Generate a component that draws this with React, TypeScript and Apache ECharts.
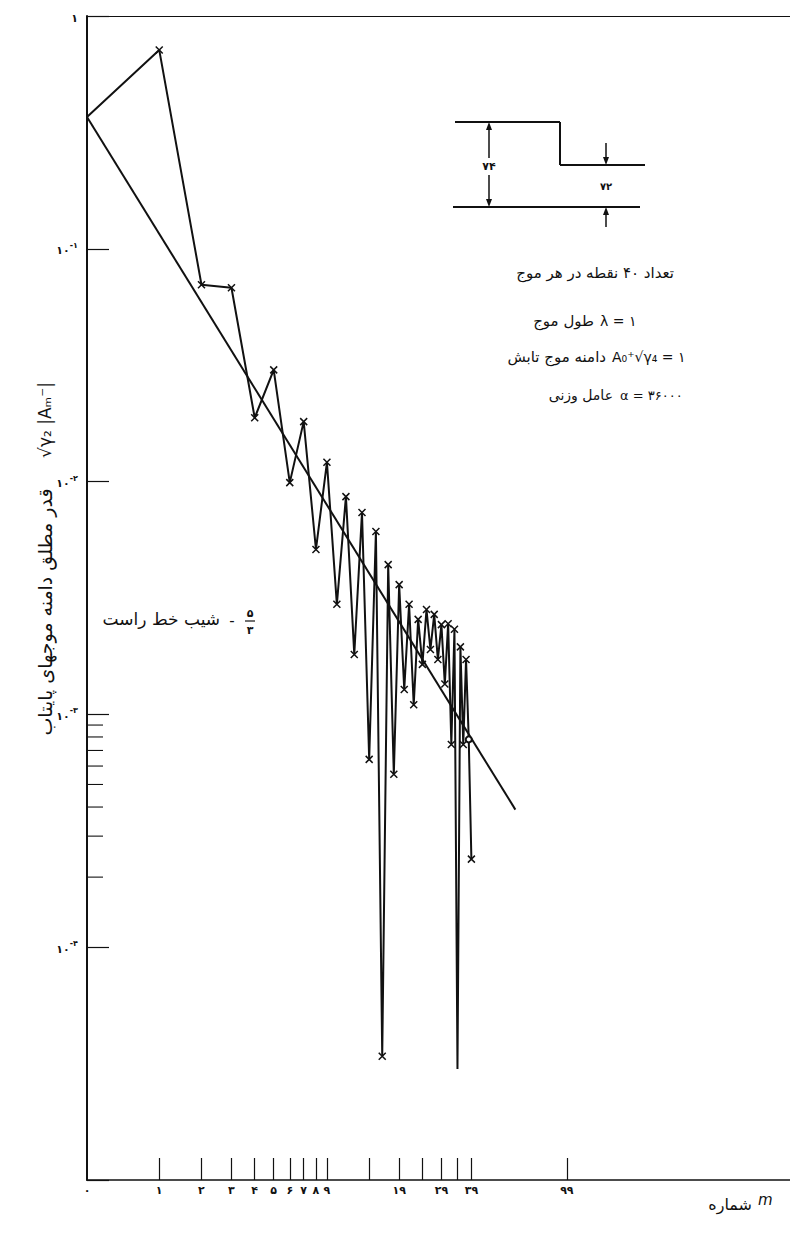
import React, { useEffect, useRef } from 'react';
import * as echarts from 'echarts';

// wave number m and measured |A_m| sqrt(y2)
const modes = [0,1,2,3,4,5,6,7,8,9,10,11,12,13,14,15,16,17,18,19,20,21,22,23,24,25,26,27,28,29,30,31,32,33,34,35,36,37,38,39];
const amplitudes = [0.368,0.715,0.0701,0.068,0.0188,0.0302,0.0099,0.0181,0.00511,0.0121,0.00297,0.00862,0.00181,0.00736,0.000641,0.0061,0.000034,0.0044,0.000553,0.00361,0.00128,0.00297,0.0011,0.00256,0.00164,0.00282,0.0019,0.00269,0.00172,0.00243,0.00135,0.00245,0.000743,0.00232,0.00003,0.00195,0.000743,0.00172,0.000781,0.000239];
// straight line of slope -5/3
const fitModes = [0, 60];
const fitAmps = [0.368, 0.00039];
const xTickModes = [1,2,3,4,5,6,7,8,9,14,19,24,29,34,39,99];
const xLabelModes = [0,1,2,3,4,5,6,7,8,9,19,29,39,99];
const yMinorTicks = [9e-4,8e-4,7e-4,6e-4,5e-4,4e-4,3e-4,2e-4];

const FA = '۰۱۲۳۴۵۶۷۸۹';
const toFa = (n: number | string) => String(n).replace(/\d/g, (d) => FA[+d]);
const xPos = (m: number) => Math.log10(m + 1);
const CROSS = 'path://M0,0L10,10M10,0L0,10';
const FONT = 'DejaVu Sans';

function txt(text: string, x: number, y: number, size: number, align = 'left', extra: any = {}) {
  return {
    type: 'text', x, y, rotation: extra.rotation || 0, silent: true,
    style: {
      text, fontSize: size, fontFamily: FONT, fill: '#111',
      align, textAlign: align, verticalAlign: 'middle', textVerticalAlign: 'middle',
      fontStyle: extra.fontStyle || 'normal', fontWeight: extra.fontWeight || 'normal',
    },
  };
}
function ln(x1: number, y1: number, x2: number, y2: number, w = 2) {
  return { type: 'line', silent: true, shape: { x1, y1, x2, y2 }, style: { stroke: '#111', lineWidth: w } };
}
function arrow(x: number, tipY: number, dir: 'up' | 'down') {
  const d = dir === 'up' ? 8 : -8;
  return { type: 'polygon', silent: true, shape: { points: [[x, tipY], [x - 3, tipY + d], [x + 3, tipY + d]] }, style: { fill: '#111' } };
}

export default function App() {
  const ref = useRef<HTMLDivElement>(null);
  useEffect(() => {
    if (!ref.current) return;
    const chart = echarts.init(ref.current, undefined, { renderer: 'svg' });
    const zig = modes.map((m, i) => ({
      value: [xPos(m), amplitudes[i]],
      symbol: i === 0 || i === 34 ? 'none' : i === 38 ? 'emptyCircle' : CROSS,
      symbolSize: i === 38 ? 6 : 7,
    }));
    const option: any = {
      animation: false,
      backgroundColor: '#fff',
      grid: { left: 87, right: 0, top: 16, bottom: 56, containLabel: false },
      xAxis: [
        {
          type: 'value', min: 0, max: 2.93, position: 'bottom',
          axisLine: { show: true, onZero: false, lineStyle: { color: '#111', width: 1.5 } },
          axisTick: { show: true, inside: true, length: 22, customValues: xTickModes.map(xPos), lineStyle: { color: '#111', width: 1.2 } },
          axisLabel: {
            show: true, customValues: xLabelModes.map(xPos), color: '#111', fontSize: 11, fontWeight: 'bold', fontFamily: FONT, margin: 5,
            formatter: (v: number) => {
              const m = xLabelModes.find((q) => Math.abs(xPos(q) - v) < 1e-6);
              return m === undefined ? '' : toFa(m);
            },
          },
          splitLine: { show: false },
        },
        {
          type: 'value', min: 0, max: 2.93, position: 'top',
          axisLine: { show: true, onZero: false, lineStyle: { color: '#111', width: 1.2 } },
          axisTick: { show: false }, axisLabel: { show: false }, splitLine: { show: false },
        },
      ],
      yAxis: {
        type: 'log', logBase: 10, min: 1e-5, max: 1,
        axisLine: { show: true, lineStyle: { color: '#111', width: 2 } },
        axisTick: { show: true, inside: true, length: 22, lineStyle: { color: '#111', width: 1.2 } },
        splitLine: { show: false },
        axisLabel: {
          color: '#111', margin: 9, fontFamily: FONT,
          formatter: (v: number) => {
            const e = Math.round(Math.log10(v));
            if (e === 0) return '{a|۱}';
            if (e <= -5) return '';
            return `{a|۱۰}{b|-${toFa(-e)}}`;
          },
          rich: {
            a: { fontSize: 11, fontWeight: 'bold', fontFamily: FONT, color: '#111', lineHeight: 15, verticalAlign: 'bottom' },
            b: { fontSize: 8, fontWeight: 'bold', fontFamily: FONT, color: '#111', lineHeight: 15, verticalAlign: 'top' },
          },
        },
      },
      series: [
        {
          type: 'line', data: fitModes.map((m, i) => [xPos(m), fitAmps[i]]), showSymbol: false, symbol: 'none',
          lineStyle: { color: '#111', width: 2 }, silent: true,
        },
        {
          type: 'line', data: zig, lineStyle: { color: '#111', width: 2 },
          itemStyle: { color: '#111', borderColor: '#111', borderWidth: 1.5 }, silent: true,
        },
        {
          type: 'custom', silent: true, clip: false,
          data: yMinorTicks.map((v) => [0, v]),
          renderItem: (_p: any, api: any) => {
            const p = api.coord([0, api.value(1)]);
            return { type: 'line', shape: { x1: p[0], y1: p[1], x2: p[0] + 16, y2: p[1] }, style: { stroke: '#111', lineWidth: 1.1 } };
          },
        },
      ],
      graphic: {
        elements: [
          // inset step profile
          ln(455, 122, 560, 122), ln(560, 122, 560, 165), ln(560, 165, 645, 165), ln(453, 207, 640, 207),
          ln(489, 126, 489, 158, 1.5), arrow(489, 122, 'up'), ln(489, 175, 489, 203, 1.5), arrow(489, 207, 'down'),
          txt('۷۴', 489, 166, 11, 'center', { fontWeight: 'bold' }),
          ln(606, 143, 606, 158, 1.5), arrow(606, 165, 'down'),
          ln(606, 227, 606, 214, 1.5), arrow(606, 207, 'up'),
          txt('۷۲', 606, 186, 10, 'center', { fontWeight: 'bold' }),
          // parameter notes
          txt('تعداد ۴۰ نقطه در هر موج', 674, 273, 15, 'right'),
          txt('λ = ۱', 600, 321, 14, 'left'),
          txt('طول موج', 594, 321, 15, 'right'),
          txt('A₀⁺√γ₄ = ۱', 612, 357, 14, 'left'),
          txt('دامنه موج تابش', 606, 357, 15, 'right'),
          txt('α = ۳۶۰۰۰', 620, 395, 13, 'left'),
          txt('عامل وزنی', 613, 395, 14, 'right'),
          // slope note
          txt('شیب خط راست', 220, 619, 17, 'right'),
          txt('-', 232, 621, 15, 'center'),
          txt('۵', 250, 613, 11, 'center', { fontWeight: 'bold' }),
          ln(245, 621, 255, 621, 1.2),
          txt('۳', 250, 630, 11, 'center', { fontWeight: 'bold' }),
          // y-axis title
          txt('√γ₂ |Aₘ⁻|', 45, 420, 17, 'center', { rotation: Math.PI / 2 }),
          txt('قدر مطلق دامنه موجهای پایتاب', 45, 612, 19, 'center', { rotation: Math.PI / 2 }),
          // x-axis title
          txt('شماره', 752, 1204, 16, 'right'),
          txt('m', 758, 1200, 15, 'left', { fontStyle: 'italic' }),
        ],
      },
    };
    chart.setOption(option);
    return () => chart.dispose();
  }, []);
  return <div ref={ref} style={{ position: 'absolute', left: 0, top: 0, width: 790, height: 1236, background: '#fff' }} />;
}
